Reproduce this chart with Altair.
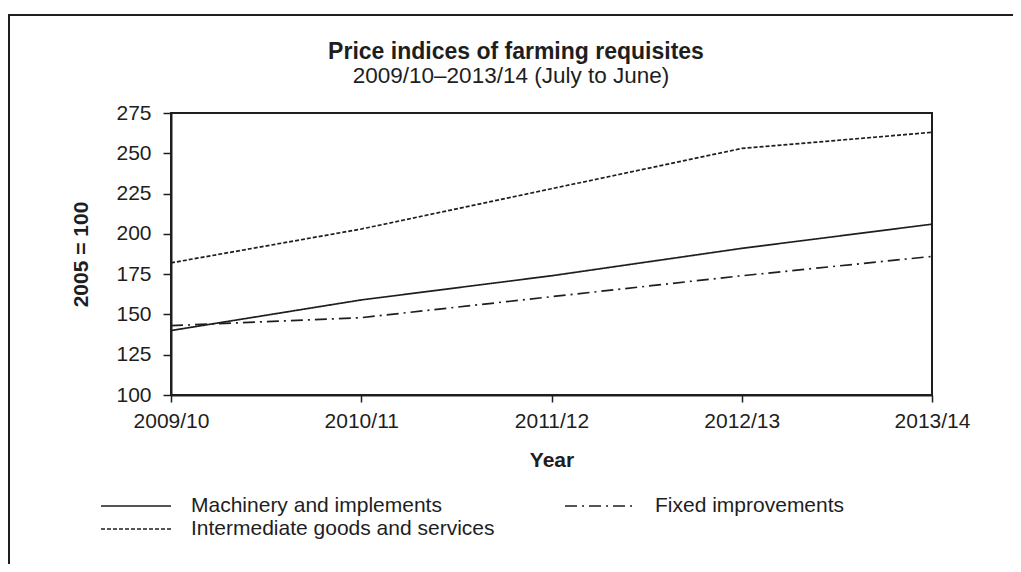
import altair as alt
import pandas as pd

years = ["2009/10", "2010/11", "2011/12", "2012/13", "2013/14"]
series_names = ["Machinery and implements", "Fixed improvements", "Intermediate goods and services"]
legend_order = ["Machinery and implements", "Intermediate goods and services", "Fixed improvements"]
machinery = [140, 159, 174, 191, 206]
fixed = [143, 148, 161, 174, 186]
intermediate = [182, 203, 228, 253, 263]
y_ticks = [100, 125, 150, 175, 200, 225, 250, 275]
title_text = "Price indices of farming requisites"
subtitle_text = "2009/10–2013/14 (July to June)"

rows = []
for name, vals in zip(series_names, [machinery, fixed, intermediate]):
    for yr, v in zip(years, vals):
        rows.append({"Year": yr, "Index": v, "Series": name})
df = pd.DataFrame(rows)

FONT = "Liberation Sans"
INK = "#1e1e1e"
dash_map = {
    "Machinery and implements": [1, 0],
    "Intermediate goods and services": [4, 2],
    "Fixed improvements": [12, 5, 2, 5],
}

lines = alt.Chart(df).mark_line(color=INK, strokeWidth=1.7).encode(
    x=alt.X("Year:O", sort=years,
            scale=alt.Scale(type="point", padding=0),
            axis=alt.Axis(title="Year", labelAngle=0, tickSize=7, labelPadding=8, titlePadding=18)),
    y=alt.Y("Index:Q",
            scale=alt.Scale(domain=[100, 275], nice=False, zero=False),
            axis=alt.Axis(title="2005 = 100", values=y_ticks, tickSize=8, labelPadding=12, titlePadding=24)),
    strokeDash=alt.StrokeDash(
        "Series:N", sort=legend_order,
        scale=alt.Scale(domain=legend_order, range=[dash_map[s] for s in legend_order]),
        legend=alt.Legend(
            title=None, orient="none", legendX=-71, legendY=381.5, columns=2,
            symbolType="stroke", symbolSize=4900, symbolStrokeWidth=1.5,
            symbolStrokeColor=INK, labelFont=FONT, labelFontSize=21, labelColor=INK,
            labelOffset=19, columnPadding=69, rowPadding=0, clipHeight=23, labelLimit=400,
        ),
    ),
)

one = pd.DataFrame({"a": [0]})

frame = alt.Chart(one).mark_rect(
    filled=False, stroke=INK, strokeWidth=2, clip=False
).encode(
    x=alt.value(-162), x2=alt.value(900), y=alt.value(-98), y2=alt.value(700)
)

title = alt.Chart(one).mark_text(
    font=FONT, fontSize=23, fontWeight="bold", color=INK, align="center", baseline="alphabetic"
).encode(x=alt.value(345), y=alt.value(-54.5), text=alt.value(title_text))

subtitle = alt.Chart(one).mark_text(
    font=FONT, fontSize=22.5, color=INK, align="center", baseline="alphabetic"
).encode(x=alt.value(340), y=alt.value(-30.5), text=alt.value(subtitle_text))

chart = alt.layer(frame, title, subtitle, lines).properties(
    width=761,
    height=282,
    padding={"left": 163, "top": 105, "right": 81, "bottom": 169},
    autosize=alt.AutoSizeParams(type="none"),
    background="white",
).configure_view(
    stroke=INK, strokeWidth=2
).configure_axis(
    grid=False, domainColor=INK, domainWidth=2, tickColor=INK, tickWidth=1.5,
    labelFont=FONT, labelFontSize=21, labelColor=INK,
    titleFont=FONT, titleFontSize=21, titleFontWeight="bold", titleColor=INK,
)

chart.save("out.html", embed_options={"renderer": "svg", "actions": False})
